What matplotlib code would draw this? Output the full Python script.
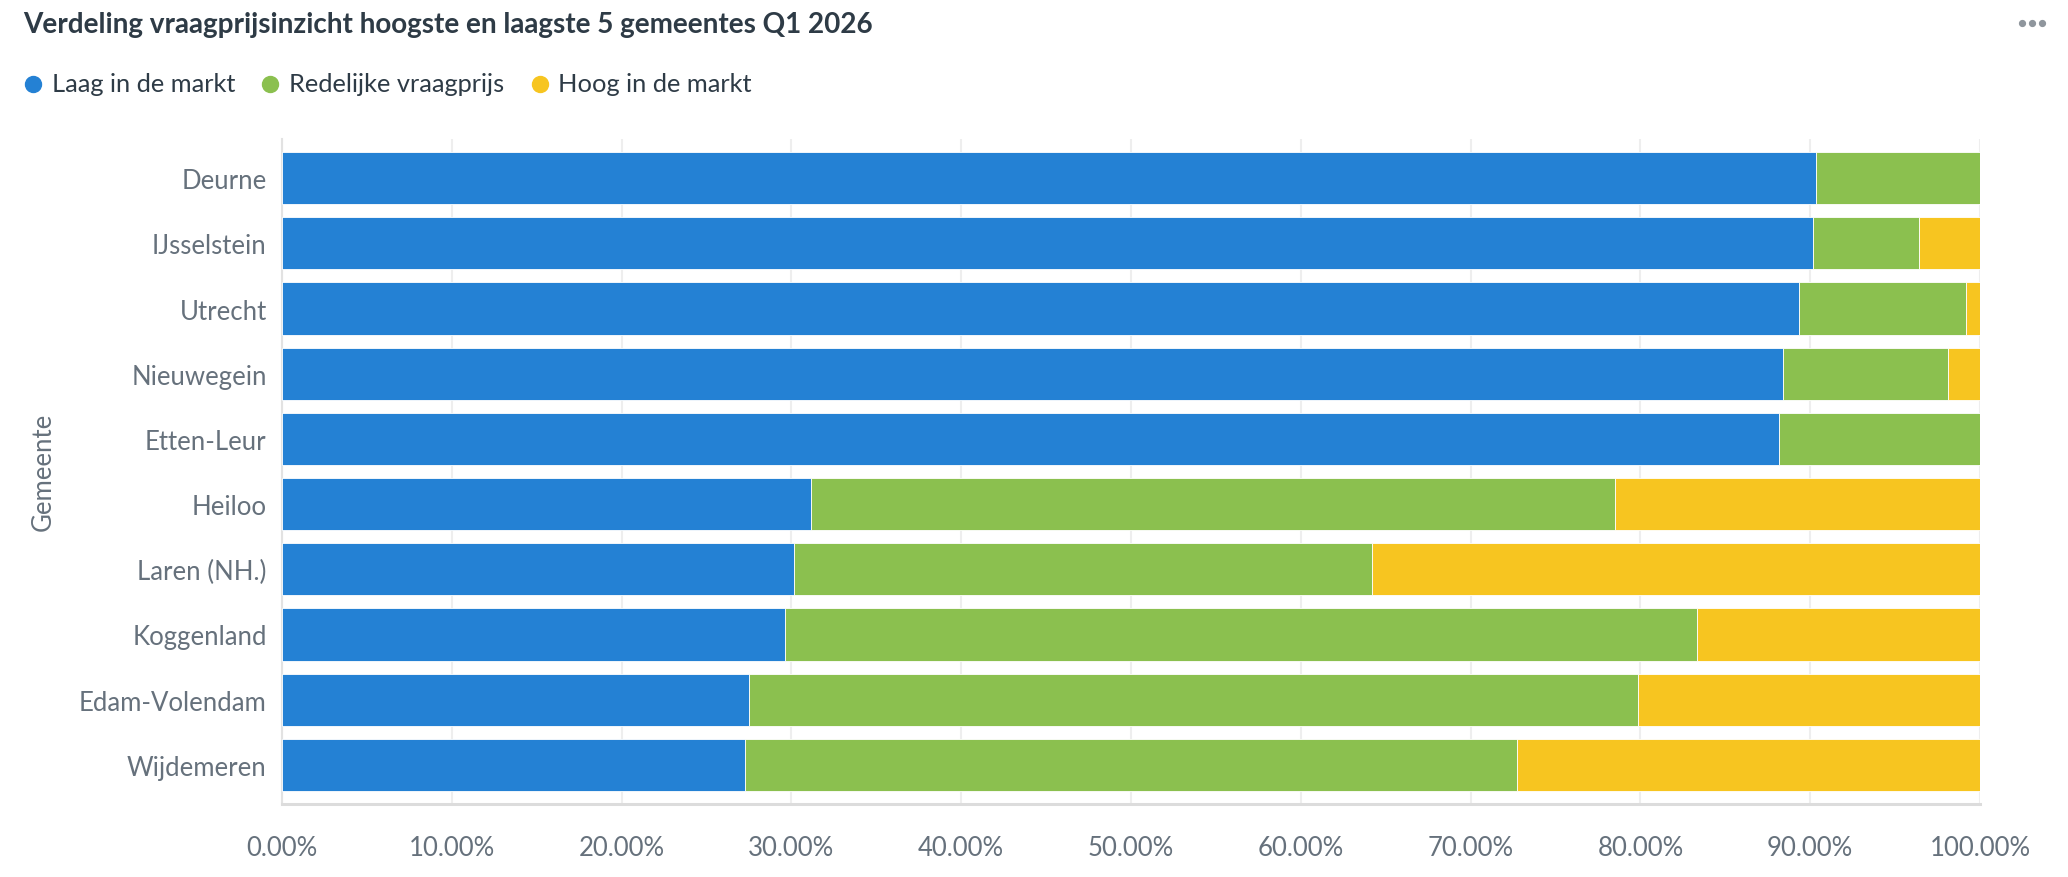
import matplotlib
matplotlib.use("Agg")
import matplotlib.pyplot as plt
from matplotlib.lines import Line2D
import numpy as np

# --- data (percentages) ---
gemeenten = ['Deurne', 'IJsselstein', 'Utrecht', 'Nieuwegein', 'Etten-Leur',
             'Heiloo', 'Laren (NH.)', 'Koggenland', 'Edam-Volendam', 'Wijdemeren']
laag = [90.34, 90.15, 89.34, 88.38, 88.15, 31.17, 30.18, 29.64, 27.50, 27.27]
redelijk = [9.66, 6.28, 9.85, 9.74, 11.85, 47.32, 33.99, 53.68, 52.33, 45.44]
hoog = [0.0, 3.57, 0.81, 1.88, 0.0, 21.51, 35.83, 16.68, 20.17, 27.29]

series_names = ['Laag in de markt', 'Redelijke vraagprijs', 'Hoog in de markt']
series_colors = ['#2481d4', '#8bc04f', '#f7c520']
x_ticks = list(range(0, 101, 10))

title = 'Verdeling vraagprijsinzicht hoogste en laagste 5 gemeentes Q1 2026'

plt.rcParams['font.family'] = ['Lato', 'DejaVu Sans']

TEXT_DARK = '#2e3b46'
TEXT_GRAY = '#66717c'

fig = plt.figure(figsize=(20.68, 8.78), dpi=100)
W, H = 2068, 878
ax = fig.add_axes([282 / W, (H - 805) / H, (1980 - 282) / W, (805 - 140) / H])

y = np.arange(len(gemeenten))
left = np.zeros(len(gemeenten))
for vals, name, col in zip([laag, redelijk, hoog], series_names, series_colors):
    vals = np.array(vals)
    ax.barh(y, vals, left=left, height=0.8, color=col, edgecolor='white',
            linewidth=0.6, label=name, zorder=3)
    left += vals

ax.set_xlim(0, 100)
ax.set_ylim(len(gemeenten) - 1 + 0.6, -0.6)
ax.set_yticks(y)
ax.set_yticklabels(gemeenten)
ax.set_xticks(x_ticks)
ax.set_xticklabels([f"{v:.2f}%" for v in x_ticks])
ax.tick_params(axis='both', length=0, labelsize=18.5, labelcolor=TEXT_GRAY)
ax.tick_params(axis='y', pad=11)
ax.tick_params(axis='x', pad=22)
ax.grid(axis='x', color='#eeeeee', linewidth=1.5, zorder=0)
ax.set_axisbelow(True)
for s in ['top', 'right']:
    ax.spines[s].set_visible(False)
ax.spines['left'].set_color('#e2e2e2')
ax.spines['left'].set_linewidth(1.5)
ax.spines['bottom'].set_color('#dcdcdc')
ax.spines['bottom'].set_linewidth(2.2)

fig.text(43 / W, 1 - 472 / H, 'Gemeente', rotation=90, ha='center', va='center',
         fontsize=18.5, color=TEXT_GRAY)

# title
fig.text(23 / W, 1 - 25 / H, title, ha='left', va='center', fontsize=20.1,
         fontweight='bold', color=TEXT_DARK)

# legend, placed by hand
fig.canvas.draw()
renderer = fig.canvas.get_renderer()
x_px = 33
legend_y = 1 - 85 / H
for name, col in zip(series_names, series_colors):
    fig.add_artist(Line2D([x_px / W], [legend_y], transform=fig.transFigure,
                          marker='o', markersize=11.5, color=col, linestyle='none'))
    t = fig.text((x_px + 19) / W, legend_y, name, ha='left', va='center',
                 fontsize=18.3, color=TEXT_DARK)
    bb = t.get_window_extent(renderer)
    x_px = bb.x1 + 35

# menu dots
fig.add_artist(Line2D([2022 / W, 2032 / W, 2042 / W], [1 - 24 / H] * 3,
                      transform=fig.transFigure, marker='o', markersize=4.2,
                      color='#8f969d', linestyle='none'))

fig.savefig('out.png', dpi=100, facecolor='white')
